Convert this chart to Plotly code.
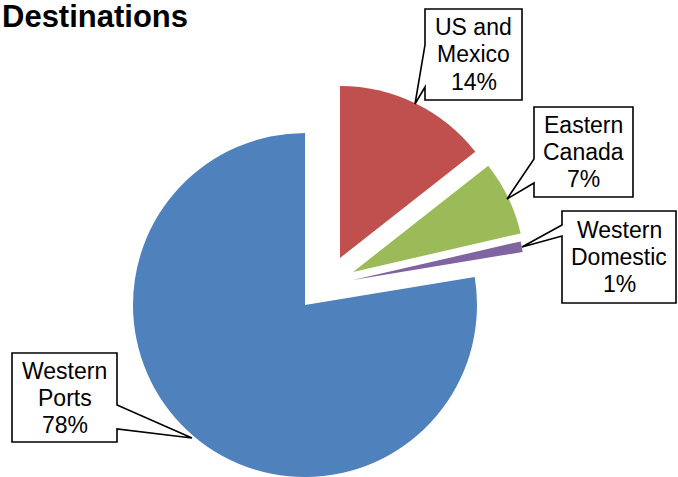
import plotly.graph_objects as go

# ---- data ----
categories = ["US and Mexico", "Eastern Canada", "Western Domestic", "Western Ports"]
label_lines = [["US and", "Mexico"], ["Eastern", "Canada"], ["Western", "Domestic"], ["Western", "Ports"]]
values = [14.4, 7.0, 1.0, 77.6]
pct_labels = ["14%", "7%", "1%", "78%"]
title_text = "Destinations"

# ---- styles / layout constants ----
W, H = 678, 477
colors = ["#C0504D", "#9BBB59", "#8064A2", "#4F81BD"]
R = 172
base_center = (305, 305)
explode_px = [(35, -47), (48, -33), (48, -25), (0, 0)]

# callout boxes: (x0, y0, x1, y1, side, base_a, base_b, tip)
callouts = [
    (425, 9, 522, 100, "left", 45, 87, (415, 104)),
    (534, 107, 633, 197, "left", 159, 183, (507, 199)),
    (562, 211, 676, 303, "left", 225, 236, (522, 247)),
    (12, 353, 117, 442, "right", 405, 429, (192, 438)),
]
FONT = "Liberation Sans, Arial, sans-serif"
LINE_H = 27


def px(x):
    return x / W


def py(y):
    return 1 - y / H


fig = go.Figure()
for i, (dx, dy) in enumerate(explode_px):
    cx, cy = base_center[0] + dx, base_center[1] + dy
    cols = ["rgba(0,0,0,0)"] * len(values)
    cols[i] = colors[i]
    fig.add_trace(go.Pie(
        labels=categories, values=values, sort=False, direction="clockwise",
        rotation=0, textinfo="none", hoverinfo="skip", showlegend=False,
        marker=dict(colors=cols, line=dict(width=0)),
        domain=dict(x=[px(cx - R), px(cx + R)], y=[py(cy + R), py(cy - R)]),
    ))

shapes = []
annotations = []
for i, (x0, y0, x1, y1, side, ba, bb, tip) in enumerate(callouts):
    if side == "left":
        pts = [(x0, y0), (x1, y0), (x1, y1), (x0, y1), (x0, bb), tip, (x0, ba)]
    else:
        pts = [(x0, y0), (x1, y0), (x1, ba), tip, (x1, bb), (x1, y1), (x0, y1)]
    path = "M " + " L ".join(f"{px(a):.5f},{py(b):.5f}" for a, b in pts) + " Z"
    shapes.append(dict(type="path", path=path, xref="paper", yref="paper",
                       fillcolor="white", line=dict(color="black", width=1.6), layer="above"))
    lines = label_lines[i] + [pct_labels[i]]
    cxb = (x0 + x1) / 2
    cyb = (y0 + y1) / 2
    for k, t in enumerate(lines):
        yy = cyb + (k - 1) * LINE_H
        annotations.append(dict(text=t, x=px(cxb), y=py(yy), xref="paper", yref="paper",
                                xanchor="center", yanchor="middle", showarrow=False,
                                font=dict(family=FONT, size=23, color="black")))

annotations.append(dict(text="<b>" + title_text + "</b>", x=px(0), y=py(17), xref="paper", yref="paper",
                        xanchor="left", yanchor="middle", showarrow=False,
                        font=dict(family=FONT, size=31, color="black")))

fig.update_layout(width=W, height=H, margin=dict(l=0, r=0, t=0, b=0),
                  paper_bgcolor="white", plot_bgcolor="white",
                  shapes=shapes, annotations=annotations)
fig.write_html("out.html", config={"displayModeBar": False},
               post_script="document.body.style.margin='0px';")
